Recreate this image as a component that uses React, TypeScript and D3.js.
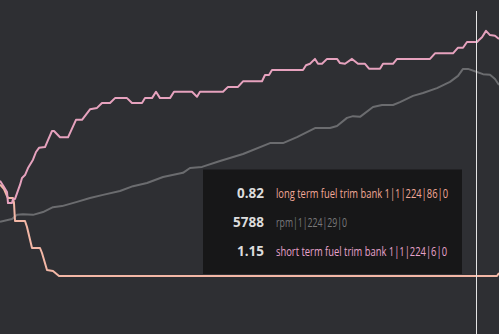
import React from "react";
import * as d3 from "d3";

const WIDTH = 499;
const HEIGHT = 334;

// time (s) and values
const longTermTime = [0, 2, 3.5, 4, 6, 6.5, 7.5, 10, 11, 12.5, 14, 16.5, 18, 19.5, 22.5, 24, 26, 27, 30, 34, 38, 41, 45, 48.5, 51, 55, 57.5, 63.5, 66, 71, 72.5, 76, 78, 80, 85, 87, 96, 98.5, 100, 111.5, 114, 119, 121.5, 131, 132.5, 134.5, 136, 151.5, 153, 155, 157.5, 159, 161, 163.5, 168.5, 170, 172.5, 176, 179, 182.5, 184.5, 190, 191.5, 196.5, 198.5, 215, 217.5, 226.5, 229, 231.5, 233.5, 238.5, 239.5, 241, 243, 245, 247.5, 249.5];
const longTermValues = [-19.0, -19.9, -20.6, -22.2, -22.2, -21.6, -21.6, -19.6, -18.6, -18.2, -17.2, -16.0, -14.9, -14.3, -14.2, -13.2, -11.9, -11.9, -12.8, -12.8, -10.3, -10.3, -8.8, -8.6, -7.9, -7.9, -7.2, -7.2, -7.9, -7.9, -7.2, -7.2, -6.3, -7.2, -7.2, -6.3, -6.3, -7.0, -6.3, -6.3, -5.6, -5.6, -4.8, -4.8, -3.9, -3.9, -3.2, -3.2, -2.5, -2.3, -1.6, -2.3, -2.3, -1.6, -1.6, -2.2, -2.3, -1.6, -2.3, -2.3, -3.0, -3.0, -2.3, -2.3, -1.6, -1.6, -0.8, -0.8, 0.0, 0.0, 0.82, 0.82, 1.1, 1.5, 2.4, 1.8, 1.7, 1.25];

const rpmTime = [0, 6, 8.5, 11.5, 16.5, 21.5, 26.5, 31, 38.5, 45, 51.5, 60, 66.5, 73.5, 81.5, 91.5, 95, 101, 110, 121.5, 135, 141.5, 148.5, 157.5, 165, 168.5, 173.5, 176.5, 180, 186.5, 191, 196.5, 200, 206.5, 211.5, 218.5, 225, 229, 231.5, 234, 238.5, 241.5, 245, 247.5, 249.5];
const rpmValues = [1490, 1570, 1690, 1710, 1690, 1770, 1910, 1940, 2060, 2170, 2260, 2370, 2510, 2600, 2770, 2890, 3030, 3060, 3230, 3430, 3740, 3740, 3910, 4170, 4170, 4230, 4460, 4510, 4490, 4770, 4830, 4830, 4910, 5090, 5170, 5310, 5490, 5660, 5860, 5860, 5770, 5710, 5690, 5570, 5400];

const shortTermTime = [0, 2, 3.5, 4, 6.5, 7, 7.5, 12.5, 13.5, 16, 20, 21, 23.5, 26.5, 29.5, 248.5, 249.5];
const shortTermValues = [24.0, 22.9, 21.15, 20.65, 20.65, 19.4, 14.9, 14.9, 13.4, 8.15, 8.15, 6.9, 2.65, 2.4, 1.15, 1.15, 1.9];

const cursorTime = 238;

const tooltipValues = ["0.82", "5788", "1.15"];
const tooltipLabels = [
  "long term fuel trim bank 1|1|224|86|0",
  "rpm|1|224|29|0",
  "short term fuel trim bank 1|1|224|6|0",
];
const tooltipColors = ["#f2a897", "#7a7a7c", "#e7a3cc"];

type P = { t: number; v: number };
const zip = (ts: number[], vs: number[]): P[] => ts.map((t, i) => ({ t, v: vs[i] }));

export default function App() {
  const x = d3.scaleLinear().domain([0, 250]).range([0, 500]);
  const yLong = d3.scaleLinear().domain([-25, 5]).range([222.7, 12.7]);
  const yRpm = d3.scaleLinear().domain([0, 7000]).range([274, 29]);
  const yShort = d3.scaleLinear().domain([0, 30]).range([280.6, 160.6]);

  const mk = (y: d3.ScaleLinear<number, number>) =>
    d3
      .line<P>()
      .x((d) => x(d.t))
      .y((d) => y(d.v));

  const longPath = mk(yLong)(zip(longTermTime, longTermValues)) || "";
  const rpmPath = mk(yRpm)(zip(rpmTime, rpmValues)) || "";
  const shortPath = mk(yShort)(zip(shortTermTime, shortTermValues)) || "";

  const cx = Math.round(x(cursorTime)) + 0.5;
  const rowY = [198, 227, 256];
  const labelWidths = [172, 71, 171];

  return (
    <svg
      width={WIDTH}
      height={HEIGHT}
      style={{ position: "absolute", left: 0, top: 0, display: "block" }}
      fontFamily="'Open Sans', 'Noto Sans', sans-serif"
    >
      <rect x={0} y={0} width={WIDTH} height={HEIGHT} fill="#2e2f33" />
      <path d={rpmPath} fill="none" stroke="#6b6c6f" strokeWidth={2} strokeLinejoin="round" />
      <path d={shortPath} fill="none" stroke="#f3b7a6" strokeWidth={2} strokeLinejoin="round" />
      <path d={longPath} fill="none" stroke="#e6a2be" strokeWidth={2} strokeLinejoin="round" />
      <rect x={203} y={169.5} width={259} height={104.5} fill="#171718" />
      {tooltipValues.map((v, i) => (
        <text
          key={"v" + i}
          x={264}
          y={rowY[i]}
          textAnchor="end"
          fontSize={13.5}
          fontWeight={700}
          fill="#dcdcdc"
        >
          {v}
        </text>
      ))}
      {tooltipLabels.map((l, i) => (
        <text
          key={"l" + i}
          x={276}
          y={rowY[i]}
          fontSize={12}
          fill={tooltipColors[i]}
          textLength={labelWidths[i]}
          lengthAdjust="spacingAndGlyphs"
        >
          {l}
        </text>
      ))}
      <line x1={cx} x2={cx} y1={11} y2={HEIGHT} stroke="#e4e4e4" strokeWidth={1} />
    </svg>
  );
}
